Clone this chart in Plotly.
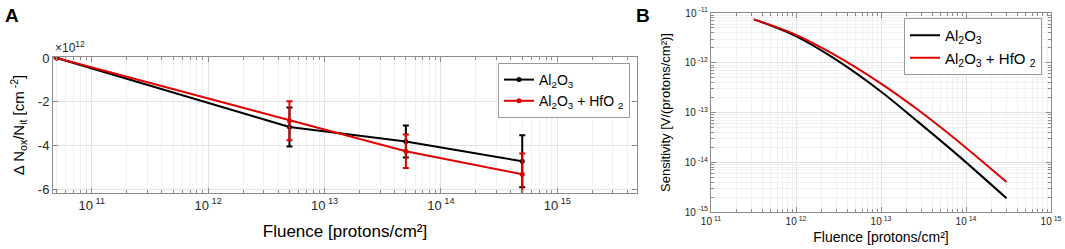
import plotly.graph_objects as go

# ---------- Panel A data ----------
fluence_a = [5e10, 5e12, 5e13, 5e14]
al2o3_a = [0.0, -3.16, -3.82, -4.73]
al2o3_a_err = [0.0, 0.89, 0.73, 1.19]
hfo2_a = [0.0, -2.87, -4.27, -5.32]
hfo2_a_err = [0.0, 0.89, 0.77, 0.95]

# ---------- Panel B data ----------
fluence_b = [3.2e11, 9.3e11, 2.75e12, 9.7e12, 2.6e13, 7.8e13, 3.0e14]
al2o3_b = [7.46e-12, 3.62e-12, 1.25e-12, 2.74e-13, 6.95e-14, 1.44e-14, 1.89e-15]
hfo2_b = [7.46e-12, 3.86e-12, 1.49e-12, 3.95e-13, 1.2e-13, 2.77e-14, 4.0e-15]

legend_names = ["Al<sub>2</sub>O<sub>3</sub>", "Al<sub>2</sub>O<sub>3</sub> + HfO <sub>2</sub>"]
x_major = [1e11, 1e12, 1e13, 1e14, 1e15]
x_major_text = ["10<sup> 11</sup>", "10<sup> 12</sup>", "10<sup> 13</sup>", "10<sup> 14</sup>", "10<sup> 15</sup>"]
ya_ticks = [0, -2, -4, -6]
ya_text = ["0", "-2", "-4", "-6"]
yb_major = [1e-11, 1e-12, 1e-13, 1e-14, 1e-15]
yb_text = ["10<sup> -11</sup>", "10<sup> -12</sup>", "10<sup> -13</sup>", "10<sup> -14</sup>", "10<sup> -15</sup>"]

W, H = 1065, 249
FONT = "Liberation Sans, Arial, Helvetica, sans-serif"
AXC = "#8c8c8c"
GRID = "#e3e3e3"
MINGRID = "#f1f1f1"
TXT = "#262626"

def minor_vals(lo, hi):
    out = []
    for e in range(lo, hi):
        for k in range(2, 10):
            out.append(k * 10.0 ** e)
    return out

fig = go.Figure()

fig.add_trace(go.Scatter(
    x=fluence_a, y=al2o3_a, name=legend_names[0], mode="lines+markers",
    line=dict(color="black", width=2), marker=dict(color="black", size=5),
    error_y=dict(type="data", array=al2o3_a_err, color="black", thickness=2, width=3),
    xaxis="x", yaxis="y", legend="legend"))
fig.add_trace(go.Scatter(
    x=fluence_a, y=hfo2_a, name=legend_names[1], mode="lines+markers",
    line=dict(color="#e00000", width=2), marker=dict(color="#e00000", size=5),
    error_y=dict(type="data", array=hfo2_a_err, color="#e00000", thickness=2, width=3),
    xaxis="x", yaxis="y", legend="legend"))

fig.add_trace(go.Scatter(
    x=fluence_b, y=al2o3_b, name=legend_names[0], mode="lines",
    line=dict(color="black", width=2, shape="spline", smoothing=1.0),
    xaxis="x2", yaxis="y2", legend="legend2"))
fig.add_trace(go.Scatter(
    x=fluence_b, y=hfo2_b, name=legend_names[1], mode="lines",
    line=dict(color="#e00000", width=2, shape="spline", smoothing=1.0),
    xaxis="x2", yaxis="y2", legend="legend2"))

def axis(**kw):
    base = dict(showline=True, linecolor=AXC, linewidth=1, mirror="allticks",
                ticks="inside", tickcolor=AXC, ticklen=5, showgrid=True,
                gridcolor=GRID, zeroline=False, automargin=False)
    base.update(kw)
    return base

fig.update_layout(
    width=W, height=H, margin=dict(l=0, r=0, t=0, b=0),
    paper_bgcolor="white", plot_bgcolor="white",
    font=dict(family=FONT, color=TXT),
    xaxis=axis(type="log", domain=[53 / W, 637 / W], range=[10.667, 15.685],
               tickmode="array", tickvals=x_major, ticktext=x_major_text,
               tickfont=dict(family=FONT, color=TXT, size=13),
               minor=dict(tickvals=minor_vals(10, 16), ticks="inside", ticklen=3,
                          tickcolor=AXC, showgrid=True, gridcolor=MINGRID),
               title=dict(text="Fluence [protons/cm²]", font=dict(size=17, family=FONT, color="black"), standoff=13),
               anchor="y"),
    yaxis=axis(domain=[1 - 193 / H, 1 - 57 / H], range=[-6.18, 0.046],
               tickmode="array", tickvals=ya_ticks, ticktext=ya_text,
               tickfont=dict(family=FONT, color=TXT, size=13),
               title=dict(text="Δ N<sub>ox</sub>/N<sub>it</sub> [cm<sup> -2</sup>]",
                          font=dict(size=15, family=FONT, color="black"), standoff=9),
               anchor="x"),
    xaxis2=axis(type="log", domain=[711 / W, 1051 / W], range=[11, 15],
                tickmode="array", tickvals=x_major, ticktext=x_major_text,
                tickfont=dict(family=FONT, color=TXT, size=10),
                minor=dict(tickvals=minor_vals(11, 15), ticks="inside", ticklen=3,
                           tickcolor=AXC, showgrid=True, gridcolor=MINGRID),
                title=dict(text="Fluence [protons/cm²]", font=dict(size=14, family=FONT, color="black"), standoff=6),
                anchor="y2"),
    yaxis2=axis(type="log", domain=[1 - 212 / H, 1 - 13 / H], range=[-15, -11],
                tickmode="array", tickvals=yb_major, ticktext=yb_text,
                tickfont=dict(family=FONT, color=TXT, size=10),
                minor=dict(tickvals=minor_vals(-15, -11), ticks="inside", ticklen=3,
                           tickcolor=AXC, showgrid=True, gridcolor=MINGRID),
                title=dict(text="Sensitivity [V/(protons/cm²)]", font=dict(size=13, family=FONT, color="black"), standoff=11),
                anchor="x2"),
    legend=dict(x=630 / W, y=1 - 63 / H, xanchor="right", yanchor="top",
                bgcolor="white", bordercolor="#9a9a9a", borderwidth=1,
                font=dict(size=14, family=FONT, color="black"), itemwidth=30),
    legend2=dict(x=1042 / W, y=1 - 18 / H, xanchor="right", yanchor="top",
                 bgcolor="white", bordercolor="#9a9a9a", borderwidth=1,
                 font=dict(size=15, family=FONT, color="black"), itemwidth=30),
    showlegend=True,
)

fig.add_annotation(text="<b>A</b>", x=3 / W, y=1 - 3 / H, xref="paper", yref="paper",
                   xanchor="left", yanchor="top", showarrow=False,
                   font=dict(size=19, family=FONT, color="black"))
fig.add_annotation(text="<b>B</b>", x=634 / W, y=1 - 3 / H, xref="paper", yref="paper",
                   xanchor="left", yanchor="top", showarrow=False,
                   font=dict(size=19, family=FONT, color="black"))
fig.add_annotation(text="×10<sup>12</sup>", x=53 / W, y=1 - 57 / H, xref="paper", yref="paper",
                   xanchor="left", yanchor="bottom", showarrow=False,
                   font=dict(size=12, family=FONT, color=TXT))

fig.write_html("out.html", config={"displayModeBar": False},
               post_script="document.body.style.margin='0';document.body.style.overflow='hidden';")
